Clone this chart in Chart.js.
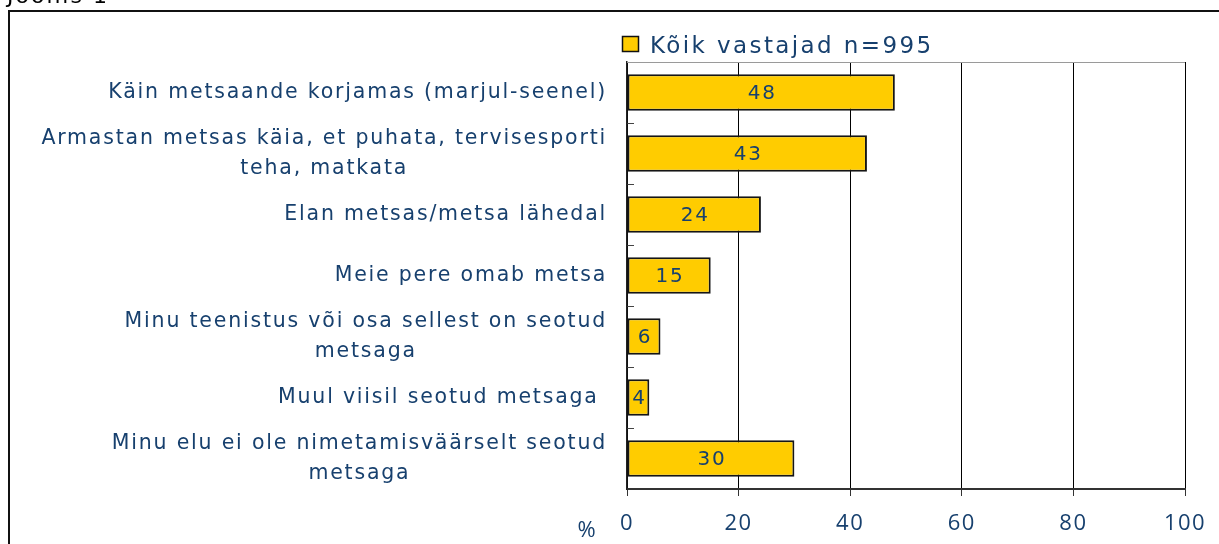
<!DOCTYPE html>
<html>
<head>
<meta charset="utf-8">
<script src="https://cdn.jsdelivr.net/npm/chart.js@4/dist/chart.umd.min.js"></script>
<style>
  html, body { margin: 0; padding: 0; background: #fff; overflow: hidden; }
  #wrap { position: relative; width: 1219px; height: 544px; }
</style>
</head>
<body>
<div id="wrap"><canvas id="c" width="1219" height="544"></canvas></div>
<script>
// ---- data ----
const figureTitle = "Joonis 1";
const seriesName = "Kõik vastajad n=995";
const categories = [
  ["Käin metsaande korjamas (marjul-seenel)"],
  ["Armastan metsas käia, et puhata, tervisesporti", "teha, matkata"],
  ["Elan metsas/metsa lähedal"],
  ["Meie pere omab metsa"],
  ["Minu teenistus või osa sellest on seotud", "metsaga"],
  ["Muul viisil seotud metsaga "],
  ["Minu elu ei ole nimetamisväärselt seotud", "metsaga"]
];
const values = [48, 43, 24, 15, 6, 4, 30];
const xTickValues = [0, 20, 40, 60, 80, 100];
const unitLabel = "%";

// ---- styles ----
const TEXT = "#17406e";
const BAR = "#ffcc00";
const LABEL_FONT = '20.5px "DejaVu Sans"';
const SPACING = "1.8px";

function setSpacing(ctx, v) { try { ctx.letterSpacing = v; } catch (e) {} }

const decor = {
  id: "decor",
  beforeDraw(chart) {
    const ctx = chart.ctx;
    ctx.save();
    ctx.fillStyle = "#111";
    ctx.fillRect(8, 10, 2, 544);
    ctx.fillRect(8, 10, 1219, 2);
    ctx.font = '22px "DejaVu Sans"';
    setSpacing(ctx, "2px");
    ctx.fillStyle = "#000";
    ctx.textAlign = "left";
    ctx.textBaseline = "alphabetic";
    ctx.fillText(figureTitle, 7, 3);
    ctx.restore();
    setSpacing(ctx, "1.5px");
  },
  afterDraw(chart) {
    const ctx = chart.ctx;
    const ca = chart.chartArea;
    const y = chart.scales.y;
    ctx.save();
    ctx.strokeStyle = "#9a9a9a";
    ctx.lineWidth = 1;
    ctx.beginPath();
    ctx.moveTo(ca.left, Math.round(ca.top) + 0.5);
    ctx.lineTo(ca.right, Math.round(ca.top) + 0.5);
    ctx.stroke();

    ctx.font = LABEL_FONT;
    setSpacing(ctx, SPACING);
    ctx.fillStyle = TEXT;
    ctx.textBaseline = "middle";
    ctx.textAlign = "center";
    const lh = 30;
    const rightEdge = ca.left - 20;
    categories.forEach((lines, i) => {
      const cy = y.getPixelForValue(i);
      const w = Math.max(...lines.map(l => ctx.measureText(l).width));
      const cx = rightEdge - w / 2;
      const y0 = cy - (lines.length - 1) * lh / 2;
      lines.forEach((l, k) => ctx.fillText(l, cx, y0 + k * lh));
    });

    ctx.fillStyle = BAR;
    ctx.fillRect(622, 36, 17, 16);
    ctx.strokeStyle = "#111";
    ctx.lineWidth = 1.5;
    ctx.strokeRect(622.5, 36.5, 16, 15);
    ctx.font = '23px "DejaVu Sans"';
    setSpacing(ctx, "2.4px");
    ctx.fillStyle = TEXT;
    ctx.textAlign = "left";
    ctx.textBaseline = "alphabetic";
    ctx.fillText(seriesName, 650, 53);

    ctx.font = '22px "Open Sans"';
    setSpacing(ctx, "1px");
    ctx.textAlign = "center";
    ctx.textBaseline = "middle";
    ctx.fillText(unitLabel, ca.left - 40, 531);
    ctx.restore();
  },
  afterDatasetsDraw(chart) {
    const ctx = chart.ctx;
    const meta = chart.getDatasetMeta(0);
    ctx.save();
    ctx.font = '20px "DejaVu Sans"';
    setSpacing(ctx, "1.8px");
    ctx.fillStyle = TEXT;
    ctx.textAlign = "center";
    ctx.textBaseline = "middle";
    meta.data.forEach((bar, i) => {
      const cx = (bar.x + bar.base) / 2;
      ctx.fillText(String(values[i]), cx + 1, bar.y + 1);
    });
    ctx.restore();
  }
};

new Chart(document.getElementById("c"), {
  type: "bar",
  data: {
    labels: categories,
    datasets: [{
      label: seriesName,
      data: values,
      backgroundColor: BAR,
      borderColor: "#151515",
      borderWidth: 2,
      borderSkipped: false,
      categoryPercentage: 1,
      barPercentage: 0.6
    }]
  },
  options: {
    indexAxis: "y",
    responsive: false,
    animation: false,
    events: [],
    layout: { padding: { top: 62, right: 34, bottom: 0, left: 0 } },
    plugins: { legend: { display: false }, tooltip: { enabled: false }, title: { display: false } },
    scales: {
      x: {
        type: "linear",
        min: 0, max: 100,
        afterBuildTicks: s => { s.ticks = xTickValues.map(v => ({ value: v })); },
        afterFit: s => { s.height = 55; },
        grid: { color: "#000", lineWidth: 1, tickLength: 7, tickColor: "#333", tickWidth: 1 },
        border: { color: "#333", width: 2 },
        ticks: {
          color: TEXT,
          font: { family: "Open Sans", size: 22 },
          padding: 15,
          maxRotation: 0
        }
      },
      y: {
        type: "category",
        offset: true,
        afterFit: s => { s.width = 627; },
        grid: { drawOnChartArea: false, offset: true, tickLength: -7, tickColor: "#444", tickWidth: 1 },
        border: { color: "#222", width: 1.5 },
        ticks: { display: false }
      }
    }
  },
  plugins: [decor]
});
</script>
</body>
</html>
